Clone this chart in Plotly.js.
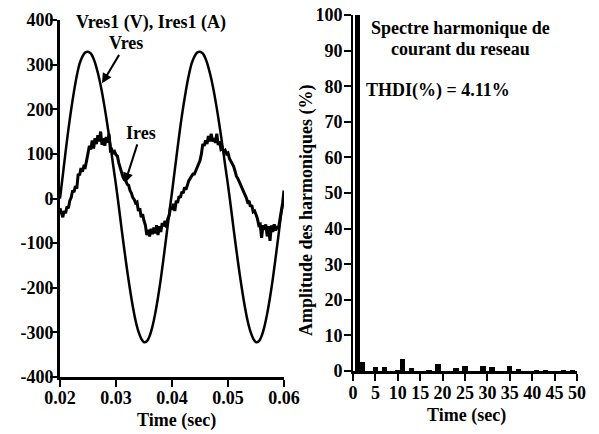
<!DOCTYPE html>
<html>
<head>
<meta charset="utf-8">
<script src="https://cdn.plot.ly/plotly-3.0.1.min.js"></script>
<style>
html,body{margin:0;padding:0;background:#fff;}
#chart{width:599px;height:434px;}
</style>
</head>
<body>
<div id="chart"></div>
<script>
// ---- Left panel: grid voltage and current (time in s) ----
const tV = [0.0200,0.0205,0.0210,0.0215,0.0220,0.0225,0.0230,0.0235,0.0240,0.0245,
0.0250,0.0255,0.0260,0.0265,0.0270,0.0275,0.0280,0.0285,0.0290,0.0295,
0.0300,0.0305,0.0310,0.0315,0.0320,0.0325,0.0330,0.0335,0.0340,0.0345,
0.0350,0.0355,0.0360,0.0365,0.0370,0.0375,0.0380,0.0385,0.0390,0.0395,
0.0400,0.0405,0.0410,0.0415,0.0420,0.0425,0.0430,0.0435,0.0440,0.0445,
0.0450,0.0455,0.0460,0.0465,0.0470,0.0475,0.0480,0.0485,0.0490,0.0495,
0.0500,0.0505,0.0510,0.0515,0.0520,0.0525,0.0530,0.0535,0.0540,0.0545,
0.0550,0.0555,0.0560,0.0565,0.0570,0.0575,0.0580,0.0585,0.0590,0.0595,0.0600];
const vres = [0,52,105,155,200,240,275,302,318,327,
329,325,313,294,269,238,202,162,119,74,
30,-18,-68,-116,-162,-204,-242,-274,-298,-314,
-322,-320,-308,-287,-258,-222,-180,-133,-84,-34,
14,64,114,162,205,243,276,302,318,327,
329,325,313,294,269,238,202,162,119,74,
30,-18,-68,-116,-162,-204,-242,-274,-298,-314,
-322,-320,-308,-287,-258,-222,-180,-133,-84,-34,0];

const tI = [0.02000,0.02025,0.02050,0.02075,0.02100,0.02125,0.02150,0.02175,0.02200,0.02225,
0.02250,0.02275,0.02300,0.02325,0.02350,0.02375,0.02400,0.02425,0.02450,0.02475,
0.02500,0.02525,0.02550,0.02575,0.02600,0.02625,0.02650,0.02675,0.02700,0.02725,
0.02750,0.02775,0.02800,0.02825,0.02850,0.02875,0.02900,0.02925,0.02950,0.02975,
0.03000,0.03025,0.03050,0.03075,0.03100,0.03125,0.03150,0.03175,0.03200,0.03225,
0.03250,0.03275,0.03300,0.03325,0.03350,0.03375,0.03400,0.03425,0.03450,0.03475,
0.03500,0.03525,0.03550,0.03575,0.03600,0.03625,0.03650,0.03675,0.03700,0.03725,
0.03750,0.03775,0.03800,0.03825,0.03850,0.03875,0.03900,0.03925,0.03950,0.03975,
0.04000,0.04025,0.04050,0.04075,0.04100,0.04125,0.04150,0.04175,0.04200,0.04225,
0.04250,0.04275,0.04300,0.04325,0.04350,0.04375,0.04400,0.04425,0.04450,0.04475,
0.04500,0.04525,0.04550,0.04575,0.04600,0.04625,0.04650,0.04675,0.04700,0.04725,
0.04750,0.04775,0.04800,0.04825,0.04850,0.04875,0.04900,0.04925,0.04950,0.04975,
0.05000,0.05025,0.05050,0.05075,0.05100,0.05125,0.05150,0.05175,0.05200,0.05225,
0.05250,0.05275,0.05300,0.05325,0.05350,0.05375,0.05400,0.05425,0.05450,0.05475,
0.05500,0.05525,0.05550,0.05575,0.05600,0.05625,0.05650,0.05675,0.05700,0.05725,
0.05750,0.05775,0.05800,0.05825,0.05850,0.05875,0.05900,0.05925,0.05950,0.05975,0.06000];
const ires = [-22,-35,-42,-28,-33,-18,-22,-5,2,18,14,28,22,55,52,68,60,72,70,85,
98,118,110,130,112,135,122,142,128,150,120,135,118,138,125,145,108,110,102,105,
98,95,80,70,55,48,42,40,32,30,18,12,2,-2,-10,-8,-28,-22,-42,-35,
-50,-60,-82,-70,-85,-68,-80,-65,-78,-60,-82,-62,-75,-55,-62,-50,-65,-45,-38,-18,
-25,-12,-28,-5,-10,5,2,15,12,25,20,32,40,45,50,55,55,62,68,75,
85,100,122,118,130,122,140,128,145,128,135,125,145,120,128,110,112,105,108,100,
102,90,85,78,72,62,50,45,38,32,22,18,8,2,-8,-5,-18,-15,-30,-28,
-36,-45,-60,-58,-88,-60,-70,-58,-85,-62,-95,-60,-75,-58,-72,-62,-68,-50,-35,-10,18];

const leftXTicks = [0.02,0.03,0.04,0.05,0.06];
const leftXLabels = ['0.02','0.03','0.04','0.05','0.06'];
const leftYTicks = [-400,-300,-200,-100,0,100,200,300,400];
const leftYLabels = ['-400','-300','-200','-100','0','100','200','300','400'];

// ---- Right panel: harmonic spectrum of grid current ----
const harmOrder = [1,2,5,7,10,11,13,17,19,23,25,29,31,35,37,41,43,47,49];
const harmAmp   = [100,2.6,1.0,1.0,0.2,3.4,0.9,0.3,2.1,0.8,1.4,1.4,1.1,1.4,0.6,0.4,0.4,0.3,0.3];
const rightXTicks = [0,5,10,15,20,25,30,35,40,45,50];
const rightXLabels = ['0','5','10','15','20','25','30','35','40','45','50'];
const rightYTicks = [0,10,20,30,40,50,60,70,80,90,100];
const rightYLabels = ['0','10','20','30','40','50','60','70','80','90','100'];

const W = 599, H = 434;
const FONT = 'Liberation Serif, Times New Roman, serif';
const tf = {family: FONT, size: 18, color: '#000', weight: 'bold'};
const px = v => v / W;
const py = v => 1 - v / H;

const traces = [
  {x: tV, y: vres, type: 'scatter', mode: 'lines', line: {color: '#000', width: 2.5, shape: 'spline', smoothing: 0.6}, xaxis: 'x', yaxis: 'y', hoverinfo: 'skip'},
  {x: tI, y: ires, type: 'scatter', mode: 'lines', line: {color: '#000', width: 3}, xaxis: 'x', yaxis: 'y', hoverinfo: 'skip'},
  {x: harmOrder, y: harmAmp, type: 'bar', width: 1.2, marker: {color: '#000', line: {width: 0}}, xaxis: 'x2', yaxis: 'y2', hoverinfo: 'skip'}
];

const axBase = {
  showgrid: false, zeroline: false, showline: true, linecolor: '#000',
  ticks: 'outside', ticklen: 7, tickwidth: 2, tickcolor: '#000',
  tickfont: tf, tickmode: 'array', fixedrange: true
};

const layout = {
  width: W, height: H,
  margin: {l: 0, r: 0, t: 0, b: 0, pad: 0},
  paper_bgcolor: '#fff', plot_bgcolor: '#fff',
  showlegend: false,
  font: {family: FONT, size: 18, color: '#000'},
  xaxis: Object.assign({}, axBase, {domain: [px(60), px(284)], range: [0.02, 0.06], tickvals: leftXTicks, ticktext: leftXLabels, linewidth: 3, anchor: 'y', ticklabelstandoff: -5}),
  yaxis: Object.assign({}, axBase, {domain: [py(377), py(20)], range: [-400, 400], tickvals: leftYTicks, ticktext: leftYLabels, linewidth: 3, anchor: 'x', ticklabelstandoff: -7}),
  xaxis2: Object.assign({}, axBase, {domain: [px(353), px(577)], range: [0, 50], tickvals: rightXTicks, ticktext: rightXLabels, linewidth: 3, anchor: 'y2', ticklabelstandoff: -4}),
  yaxis2: Object.assign({}, axBase, {domain: [py(371), py(15)], range: [0, 100], tickvals: rightYTicks, ticktext: rightYLabels, linewidth: 2, anchor: 'x2', ticklabelstandoff: -2}),
  bargap: 0,
  annotations: [
    {text: 'Vres1 (V), Ires1 (A)', xref: 'paper', yref: 'paper', x: px(151), y: py(22), showarrow: false, font: tf, xanchor: 'center', yanchor: 'middle'},
    {text: 'Vres', xref: 'x', yref: 'y', x: 0.0275, y: 258, ax: 24, ay: -40, showarrow: true, arrowhead: 2, arrowsize: 1, arrowwidth: 2, arrowcolor: '#000', font: tf, standoff: 0},
    {text: 'Ires', xref: 'x', yref: 'y', x: 0.0316, y: 35, ax: 16, ay: -50, showarrow: true, arrowhead: 2, arrowsize: 1, arrowwidth: 2, arrowcolor: '#000', font: tf, standoff: 0},
    {text: 'Time (sec)', xref: 'paper', yref: 'paper', x: px(176), y: py(420), showarrow: false, font: tf, xanchor: 'center', yanchor: 'middle'},
    {text: 'Time (sec)', xref: 'paper', yref: 'paper', x: px(466), y: py(415), showarrow: false, font: tf, xanchor: 'center', yanchor: 'middle'},
    {text: 'Amplitude des harmoniques (%)', xref: 'paper', yref: 'paper', x: px(306), y: py(210), showarrow: false, font: tf, textangle: -90, xanchor: 'center', yanchor: 'middle'},
    {text: 'Spectre harmonique de', xref: 'paper', yref: 'paper', x: px(460), y: py(28), showarrow: false, font: tf, xanchor: 'center', yanchor: 'middle'},
    {text: 'courant du reseau', xref: 'paper', yref: 'paper', x: px(460), y: py(49), showarrow: false, font: tf, xanchor: 'center', yanchor: 'middle'},
    {text: 'THDI(%) = 4.11%', xref: 'paper', yref: 'paper', x: px(364), y: py(90), showarrow: false, font: tf, xanchor: 'left', yanchor: 'middle'}
  ]
};

Plotly.newPlot('chart', traces, layout, {staticPlot: true, displayModeBar: false});
</script>
</body>
</html>
